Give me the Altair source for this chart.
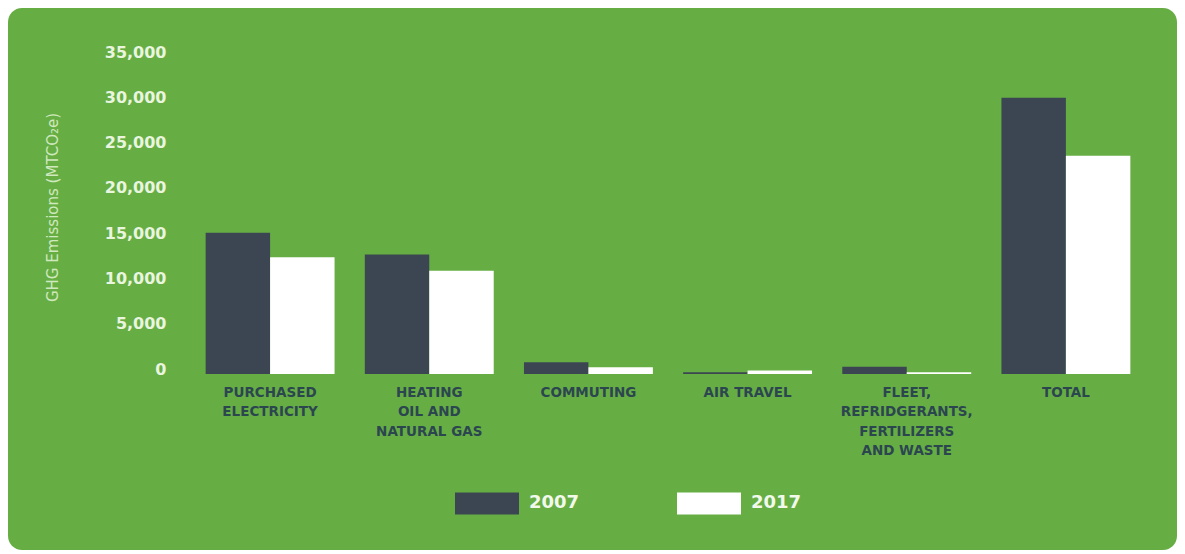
import altair as alt
import pandas as pd

categories = [
    "PURCHASED|ELECTRICITY",
    "HEATING|OIL AND|NATURAL GAS",
    "COMMUTING",
    "AIR TRAVEL",
    "FLEET,|REFRIDGERANTS,|FERTILIZERS|AND WASTE",
    "TOTAL",
]
years = ["2007", "2017"]
v2007 = [15600, 13200, 1300, 200, 800, 30500]
v2017 = [12900, 11400, 750, 400, 200, 24100]
y_ticks = [0, 5000, 10000, 15000, 20000, 25000, 30000, 35000]

rows = []
for c, a, b in zip(categories, v2007, v2017):
    rows.append({"category": c, "year": "2007", "value": a})
    rows.append({"category": c, "year": "2017", "value": b})
df = pd.DataFrame(rows)

GREEN = "#66ae44"
DARK = "#3c4653"
LIGHT = "#e9f5df"

W, H = 968, 317
PL, PT = 176, 49
CW, CH = 1169, 542
PR = CW - PL - W
PB = CH - PT - H

bg = alt.Chart(alt.Data(values=[{"a": 1}])).mark_rect(
    color=GREEN, cornerRadius=14
).encode(
    x=alt.value(-PL), x2=alt.value(W + PR), y=alt.value(-PT), y2=alt.value(H + PB)
)

bars = alt.Chart(df).mark_bar().encode(
    x=alt.X(
        "category:N",
        sort=categories,
        scale=alt.Scale(paddingInner=0.19, paddingOuter=0.136),
        axis=alt.Axis(
            title=None,
            domain=False,
            ticks=False,
            zindex=1,
            labelAngle=0,
            labelExpr="split(datum.label, '|')",
            labelFont="DejaVu Sans",
            labelFontWeight="bold",
            labelFontSize=13.5,
            labelColor="#2c4650",
            labelLineHeight=19.5,
            labelPadding=11,
            labelBaseline="top",
            labelLimit=0,
        ),
    ),
    xOffset=alt.XOffset("year:N", sort=years, scale=alt.Scale(paddingInner=0)),
    y=alt.Y(
        "value:Q",
        scale=alt.Scale(domain=[0, 35000], nice=False),
        axis=alt.Axis(
            values=y_ticks,
            format=",.0f",
            domain=False,
            ticks=False,
            grid=False,
            zindex=1,
            labelFont="DejaVu Sans",
            labelFontWeight="bold",
            labelFontSize=16,
            labelColor=LIGHT,
            labelPadding=18,
            labelBaseline="alphabetic",
            title="GHG Emissions (MTCO₂e)",
            titleFont="DejaVu Sans",
            titleFontWeight="normal",
            titleFontSize=15,
            titleColor="#cfe8bd",
            titleAngle=270,
            titleAlign="center",
            titleBaseline="middle",
            titleX=-132,
            titleY=150,
        ),
    ),
    color=alt.Color(
        "year:N",
        scale=alt.Scale(domain=years, range=[DARK, "#ffffff"]),
        legend=alt.Legend(
            title=None,
            orient="none",
            direction="horizontal",
            legendX=271,
            legendY=414,
            zindex=1,
            symbolType="M-1,-0.344L1,-0.344L1,0.344L-1,0.344Z",
            symbolSize=4096,
            symbolStrokeWidth=0,
            symbolOpacity=1,
            labelFont="DejaVu Sans",
            labelFontWeight="bold",
            labelFontSize=18,
            labelColor="#f2f9ec",
            labelOffset=10,
            columnPadding=97,
            padding=0,
        ),
    ),
)

chart = alt.layer(bg, bars).properties(
    width=W,
    height=H,
    padding={"left": PL, "top": PT, "right": PR, "bottom": PB},
    autosize="none",
    background="white",
).configure_view(stroke=None)

chart.save("out.html", embed_options={"renderer": "svg", "actions": False})
